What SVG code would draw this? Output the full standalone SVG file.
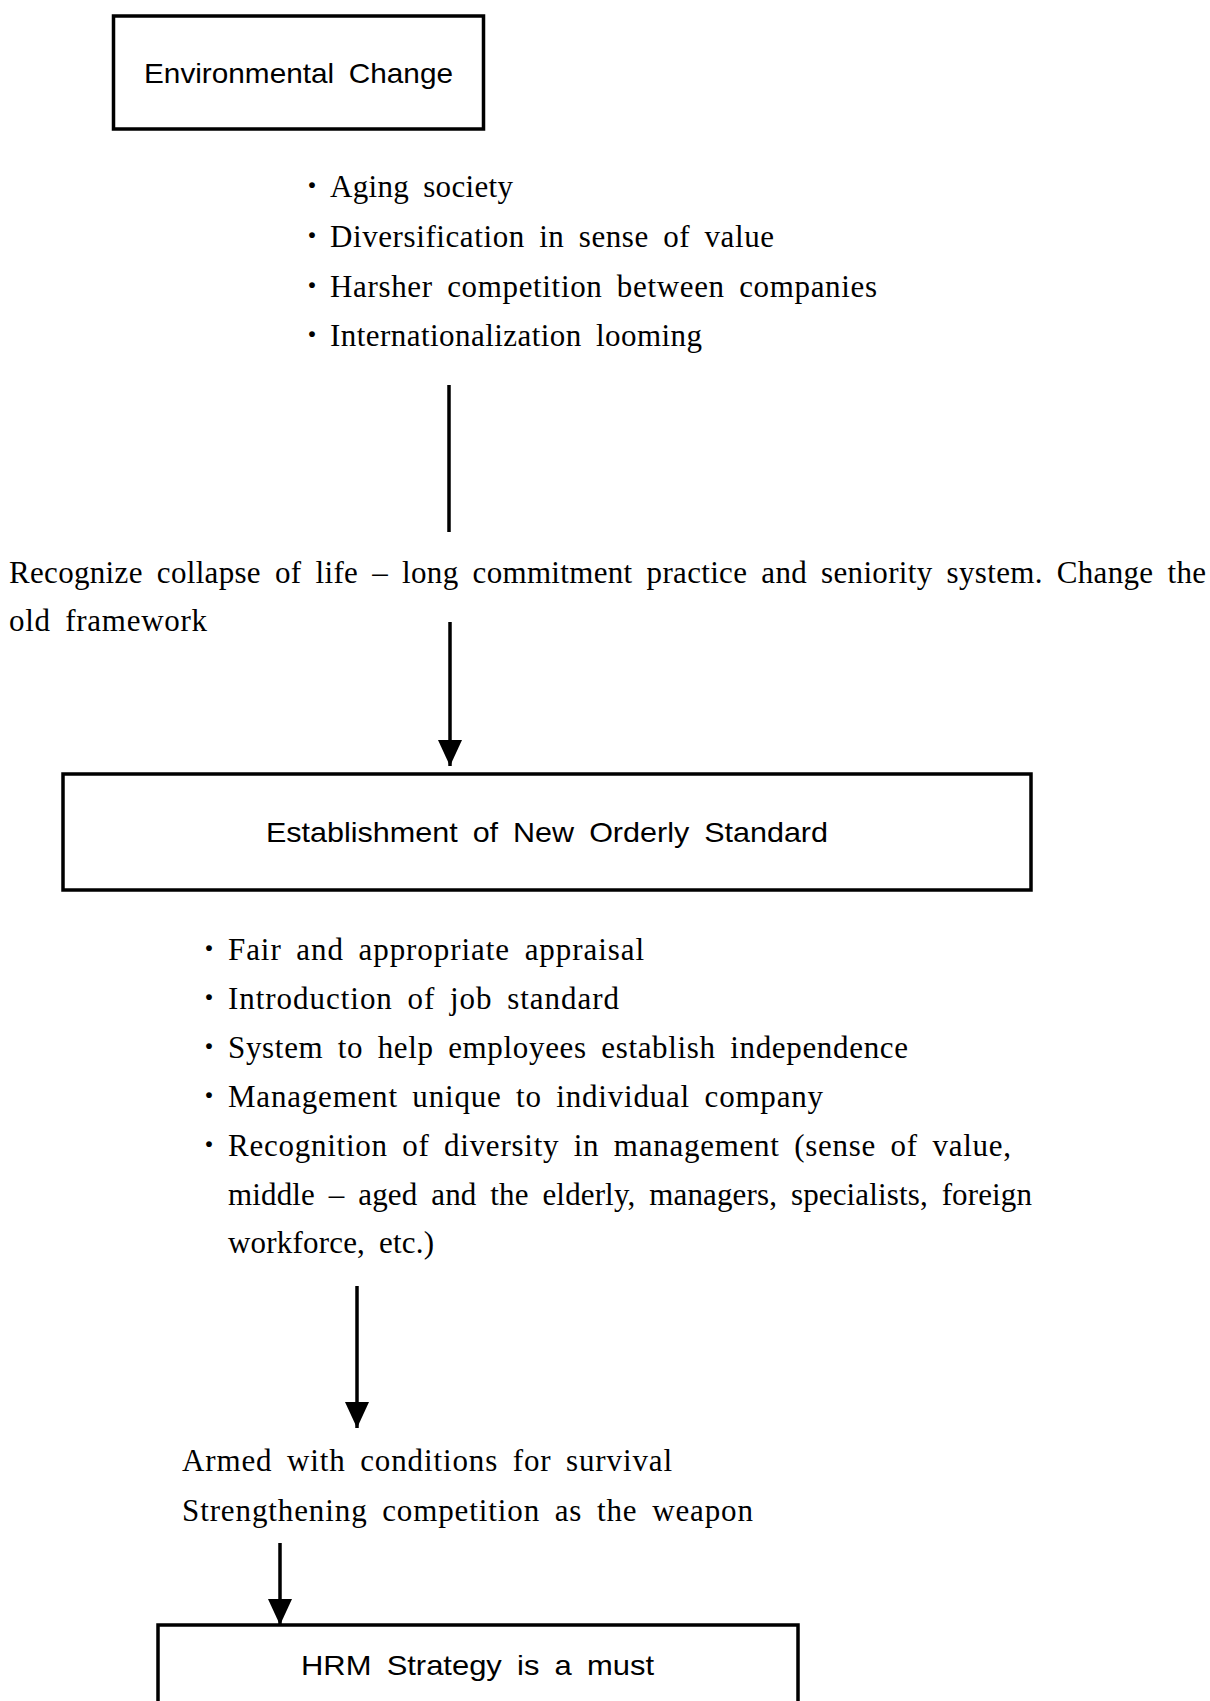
<svg xmlns="http://www.w3.org/2000/svg" width="1210" height="1701" viewBox="0 0 1210 1701">
<defs>
<style>
.box{fill:#fff;stroke:#000;stroke-width:3.5}
.bt{font-family:"Liberation Sans",Arial,sans-serif;font-size:28px;fill:#000;word-spacing:6px}
.tx{font-family:"Liberation Serif","Times New Roman",serif;font-size:31px;fill:#000;word-spacing:6px}
.bu{font-family:"Liberation Serif","Times New Roman",serif;font-size:36px;font-weight:bold;fill:#000}
.ln{stroke:#000;stroke-width:3.5;fill:none}
</style>
<marker id="ah" markerUnits="userSpaceOnUse" markerWidth="26" markerHeight="24" refX="26" refY="12" orient="auto">
<path d="M0,0 L26,12 L0,24 Z" fill="#000"/>
</marker>
</defs>
<rect width="1210" height="1701" fill="#fff"/>

<g id="connectors">
<line class="ln" x1="449" y1="385" x2="449" y2="532"/>
<line class="ln" x1="450" y1="622" x2="450" y2="766" marker-end="url(#ah)"/>
<line class="ln" x1="357" y1="1286" x2="357" y2="1428" marker-end="url(#ah)"/>
<line class="ln" x1="280" y1="1543" x2="280" y2="1625" marker-end="url(#ah)"/>
</g>

<g id="node-environmental-change">
<rect class="box" x="113.5" y="16" width="370" height="113"/>
<text class="bt" x="144" y="83" textLength="309" lengthAdjust="spacingAndGlyphs">Environmental Change</text>
</g>

<g id="node-env-factors">
<text class="bu" x="306" y="197">·</text>
<text class="tx" x="330" y="197" textLength="183" lengthAdjust="spacing">Aging society</text>
<text class="bu" x="306" y="247">·</text>
<text class="tx" x="330" y="247" textLength="444" lengthAdjust="spacing">Diversification in sense of value</text>
<text class="bu" x="306" y="297">·</text>
<text class="tx" x="330" y="297" textLength="547" lengthAdjust="spacing">Harsher competition between companies</text>
<text class="bu" x="306" y="346">·</text>
<text class="tx" x="330" y="346" textLength="372" lengthAdjust="spacing">Internationalization looming</text>
</g>

<g id="node-recognize">
<text class="tx" x="9" y="583" textLength="1197" lengthAdjust="spacing">Recognize collapse of life – long commitment practice and seniority system. Change the</text>
<text class="tx" x="9" y="631" textLength="198" lengthAdjust="spacing">old framework</text>
</g>

<g id="node-new-orderly-standard">
<rect class="box" x="63" y="774" width="968" height="116"/>
<text class="bt" x="266" y="842" textLength="562" lengthAdjust="spacingAndGlyphs">Establishment of New Orderly Standard</text>
</g>

<g id="node-standard-items">
<text class="bu" x="203" y="960">·</text>
<text class="tx" x="228" y="960" textLength="416" lengthAdjust="spacing">Fair and appropriate appraisal</text>
<text class="bu" x="203" y="1009">·</text>
<text class="tx" x="228" y="1009" textLength="391" lengthAdjust="spacing">Introduction of job standard</text>
<text class="bu" x="203" y="1058">·</text>
<text class="tx" x="228" y="1058" textLength="680" lengthAdjust="spacing">System to help employees establish independence</text>
<text class="bu" x="203" y="1107">·</text>
<text class="tx" x="228" y="1107" textLength="595" lengthAdjust="spacing">Management unique to individual company</text>
<text class="bu" x="203" y="1156">·</text>
<text class="tx" x="228" y="1156" textLength="783" lengthAdjust="spacing">Recognition of diversity in management (sense of value,</text>
<text class="tx" x="228" y="1205" textLength="804" lengthAdjust="spacing">middle – aged and the elderly, managers, specialists, foreign</text>
<text class="tx" x="228" y="1253" textLength="206" lengthAdjust="spacing">workforce, etc.)</text>
</g>

<g id="node-armed">
<text class="tx" x="182" y="1471" textLength="490" lengthAdjust="spacing">Armed with conditions for survival</text>
<text class="tx" x="182" y="1521" textLength="571" lengthAdjust="spacing">Strengthening competition as the weapon</text>
</g>

<g id="node-hrm-strategy">
<rect class="box" x="158" y="1625" width="640" height="100"/>
<text class="bt" x="301" y="1675" textLength="353" lengthAdjust="spacingAndGlyphs">HRM Strategy is a must</text>
</g>
</svg>
